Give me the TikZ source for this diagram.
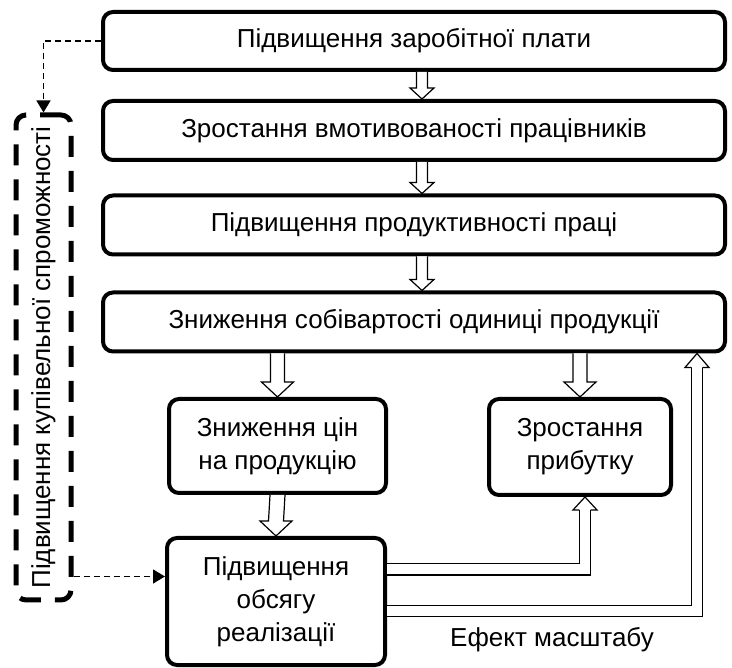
\documentclass[tikz,border=0pt]{standalone}
\usepackage{fontspec}
\setmainfont{Liberation Sans}
\usetikzlibrary{arrows.meta,calc}

\tikzset{
  stagebox/.style={draw,line width=4pt,rounded corners=10pt,fill=white,align=center,
    font=\fontsize{26}{33}\selectfont,inner sep=0pt},
  fatarr/.style={draw,fill=white,line width=1.2pt},
  dblarr/.style={double,double distance=10pt,line width=1.2pt},
  dasharr/.style={dash pattern=on 6pt off 4pt,line width=1.3pt,-{Triangle[length=12pt,width=14pt]}},
}

% hollow arrow: from, tip, half shaft, half head, head length
\newcommand{\fatarrow}[5]{%
  \filldraw[fatarr] ($(#1)+(-#3,0)$) -- ($(#2)+(-#3,#5)$) -- ($(#2)+(-#4,#5)$) -- (#2)
    -- ($(#2)+(#4,#5)$) -- ($(#2)+(#3,#5)$) -- ($(#1)+(#3,0)$);}

\begin{document}
\begin{tikzpicture}[x=1pt,y=1pt]
  \useasboundingbox (0,0) rectangle (732,-668);

  % main chain
  \node[stagebox,minimum width=622,minimum height=58] (wage) at (414,-41) {Підвищення заробітної плати};
  \node[stagebox,minimum width=622,minimum height=59] (motiv) at (414,-130.5) {Зростання вмотивованості працівників};
  \node[stagebox,minimum width=622,minimum height=59] (product) at (414,-225) {Підвищення продуктивності праці};
  \node[stagebox,minimum width=622,minimum height=59] (cost) at (414,-322) {Зниження собівартості одиниці продукції};

  % lower boxes
  \node[stagebox,minimum width=217,minimum height=94] (price) at (277.5,-446) {Зниження цін\\на продукцію};
  \node[stagebox,minimum width=182,minimum height=96] (profit) at (580,-447) {Зростання\\прибутку};
  \node[stagebox,minimum width=218,minimum height=127] (sales) at (276,-601.5) {Підвищення\\обсягу\\реалізації};

  % purchasing power
  \node[draw,line width=5pt,dash pattern=on 21pt off 14pt,rounded corners=10pt,
    minimum width=55,minimum height=485] (dbox) at (43.5,-357.5) {};
  \node[rotate=90,font=\fontsize{26}{33}\selectfont] (dtext) at (dbox.center) {Підвищення купівельної спроможності};

  % hollow arrows
  \coordinate (axis) at (422,0);
  \fatarrow{wage.south -| axis}{motiv.north -| axis}{5.5}{12}{11}
  \fatarrow{motiv.south -| axis}{product.north -| axis}{5.5}{12}{11}
  \fatarrow{product.south -| axis}{cost.north -| axis}{5.5}{12}{11}
  \fatarrow{cost.south -| price.north}{price.north}{7}{16}{15}
  \fatarrow{cost.south -| profit.north}{profit.north}{7}{16}{15}
  \fatarrow{price.south}{sales.north}{7.5}{16}{15}

  % scale effect
  \coordinate (ra) at ([yshift=32]sales.east);
  \coordinate (tipa) at ([xshift=5]profit.south);
  \coordinate (basea) at ($(tipa)+(0,-13)$);
  \draw[dblarr] (ra) -| (basea);
  \fatarrow{basea}{tipa}{5.6}{12}{-13}

  \coordinate (rb) at ([yshift=-9.5]sales.east);
  \coordinate (colb) at (697,0);
  \coordinate (tipb) at (colb |- cost.south);
  \coordinate (baseb) at ($(tipb)+(0,-14)$);
  \draw[dblarr] (rb) -| (baseb);
  \fatarrow{baseb}{tipb}{5.6}{12}{-14}
  \node[font=\fontsize{26}{33}\selectfont] (scale) at (552,-640) {Ефект масштабу};

  % dashed links
  \draw[dasharr] (wage.west) -| (dbox.north);
  \coordinate (salesin) at ([yshift=25]sales.west);
  \draw[dasharr] (dbox.east |- salesin) -- (salesin);
\end{tikzpicture}
\end{document}
